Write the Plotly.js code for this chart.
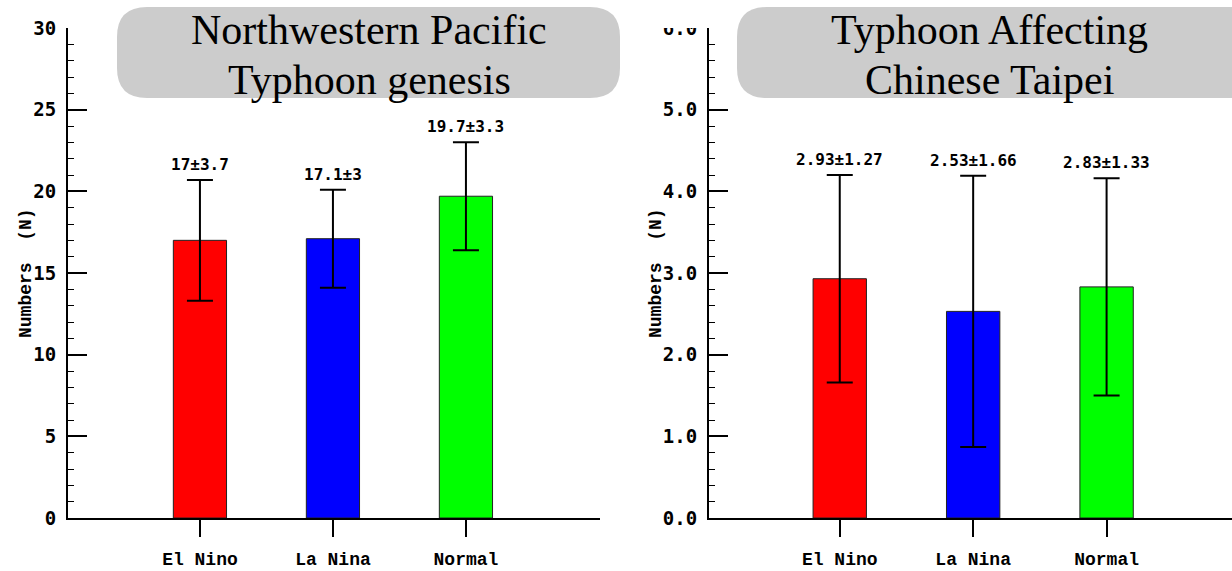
<!DOCTYPE html>
<html>
<head>
<meta charset="utf-8">
<script src="https://cdn.plot.ly/plotly-3.0.1.min.js"></script>
<style>html,body{margin:0;padding:0;background:#fff;}#chart{width:1232px;height:571px;}</style>
</head>
<body>
<div id="chart"></div>
<script>
// ---- data ----
const categories = ['El Nino', 'La Nina', 'Normal'];
const genesisMean = [17, 17.1, 19.7];
const genesisErr = [3.7, 3, 3.3];
const taipeiMean = [2.93, 2.53, 2.83];
const taipeiErr = [1.27, 1.66, 1.33];
const barColors = ['#ff0000', '#0000ff', '#00ff00'];
const leftTitleLines = ['Northwestern Pacific', 'Typhoon genesis'];
const rightTitleLines = ['Typhoon Affecting', 'Chinese Taipei'];
const yTitle = 'Numbers  (N)';

// ---- layout helpers ----
const W = 1232, H = 571;
const px = v => v / W;
const py = v => 1 - v / H;

function roundRect(x0, y0, x1, y1, r) {
  const X0 = px(x0), X1 = px(x1), Y0 = py(y1), Y1 = py(y0);
  const rx = r / W, ry = r / H;
  return `M ${X0 + rx} ${Y1} L ${X1 - rx} ${Y1} Q ${X1} ${Y1} ${X1} ${Y1 - ry} ` +
         `L ${X1} ${Y0 + ry} Q ${X1} ${Y0} ${X1 - rx} ${Y0} L ${X0 + rx} ${Y0} ` +
         `Q ${X0} ${Y0} ${X0} ${Y0 + ry} L ${X0} ${Y1 - ry} Q ${X0} ${Y1} ${X0 + rx} ${Y1} Z`;
}

const tickFont = {family: 'DejaVu Sans Mono, monospace', size: 19, color: '#000', weight: 'bold'};
const catFont = {family: 'Liberation Mono, Courier New, monospace', size: 18, color: '#000', weight: 'bold'};
const annFont = {family: 'DejaVu Sans Mono, monospace', size: 16, color: '#000', weight: 'bold'};
const titleFont = {family: 'Liberation Serif, Times New Roman, serif', size: 42, color: '#000'};
const yTitleFont = {family: 'Liberation Mono, Courier New, monospace', size: 18, color: '#000', weight: 'bold'};

function barTrace(mean, err, xa, ya) {
  return {
    type: 'bar', x: categories, y: mean, xaxis: xa, yaxis: ya,
    width: 0.4,
    marker: {color: barColors, line: {color: '#222', width: 1}},
    error_y: {type: 'data', array: err, visible: true, color: '#000', thickness: 2, width: 13},
    hoverinfo: 'x+y', showlegend: false
  };
}

const data = [
  barTrace(genesisMean, genesisErr, 'x', 'y'),
  barTrace(taipeiMean, taipeiErr, 'x2', 'y2')
];

const xCommon = {
  type: 'category', showline: true, linecolor: '#000', linewidth: 2,
  ticks: 'outside', ticklen: 17, tickwidth: 2, tickcolor: '#000',
  tickfont: catFont, showgrid: false, zeroline: false, fixedrange: true,
  ticklabelstandoff: 6
};
const yCommon = {
  showline: true, linecolor: '#000', linewidth: 2,
  ticks: 'inside', ticklen: 19, tickwidth: 2, tickcolor: '#000',
  tickfont: tickFont, showgrid: false, zeroline: false, fixedrange: true,
  ticklabelstandoff: 6
};

const annotations = [];
categories.forEach((c, i) => {
  annotations.push({xref: 'x', yref: 'y', x: c, y: genesisMean[i] + genesisErr[i],
    text: genesisMean[i] + '±' + genesisErr[i], showarrow: false, yanchor: 'bottom', yshift: 4, font: annFont});
  annotations.push({xref: 'x2', yref: 'y2', x: c, y: taipeiMean[i] + taipeiErr[i],
    text: taipeiMean[i] + '±' + taipeiErr[i], showarrow: false, yanchor: 'bottom', yshift: 4, font: annFont});
});
// y axis titles
[26, 656].forEach(cx => {
  annotations.push({xref: 'paper', yref: 'paper', x: px(cx), y: py(273), text: yTitle, textangle: -90,
    showarrow: false, xanchor: 'center', yanchor: 'middle', font: yTitleFont});
});
// title box texts
[[leftTitleLines, 369], [rightTitleLines, 989]].forEach(([lines, cx]) => {
  lines.forEach((t, k) => {
    annotations.push({xref: 'paper', yref: 'paper', x: px(cx), y: py(30 + k * 50), text: t,
      showarrow: false, xanchor: 'center', yanchor: 'middle', font: titleFont});
  });
});

const layout = {
  width: W, height: H, autosize: false,
  margin: {l: 0, r: 0, t: 0, b: 0, pad: 0},
  paper_bgcolor: '#fff', plot_bgcolor: 'rgba(0,0,0,0)',
  showlegend: false,
  xaxis: Object.assign({}, xCommon, {domain: [px(68), px(600)], range: [-0.992, 3.008], anchor: 'y'}),
  yaxis: Object.assign({}, yCommon, {domain: [py(518), py(28)], range: [0, 30], dtick: 5, anchor: 'x',
    minor: {dtick: 1, ticks: 'inside', ticklen: 6, tickwidth: 1, tickcolor: '#000'}}),
  xaxis2: Object.assign({}, xCommon, {domain: [px(709), 1], range: [-0.98, 2.94], anchor: 'y2'}),
  yaxis2: Object.assign({}, yCommon, {domain: [py(518), py(28)], range: [0, 6], dtick: 1, tickformat: '.1f', anchor: 'x2',
    minor: {dtick: 0.2, ticks: 'inside', ticklen: 6, tickwidth: 1, tickcolor: '#000'}}),
  shapes: [
    {type: 'path', xref: 'paper', yref: 'paper', path: roundRect(117, 7, 620, 98, 30),
      fillcolor: '#cccccc', line: {width: 0}, layer: 'above'},
    {type: 'path', xref: 'paper', yref: 'paper', path: roundRect(737, 7, 1262, 98, 30),
      fillcolor: '#cccccc', line: {width: 0}, layer: 'above'},
    {type: 'rect', xref: 'paper', yref: 'paper', x0: px(640), x1: px(706), y0: py(28), y1: 1,
      fillcolor: '#ffffff', line: {width: 0}, layer: 'above'}
  ],
  annotations: annotations
};

Plotly.newPlot('chart', data, layout, {displayModeBar: false, staticPlot: true});
</script>
</body>
</html>
